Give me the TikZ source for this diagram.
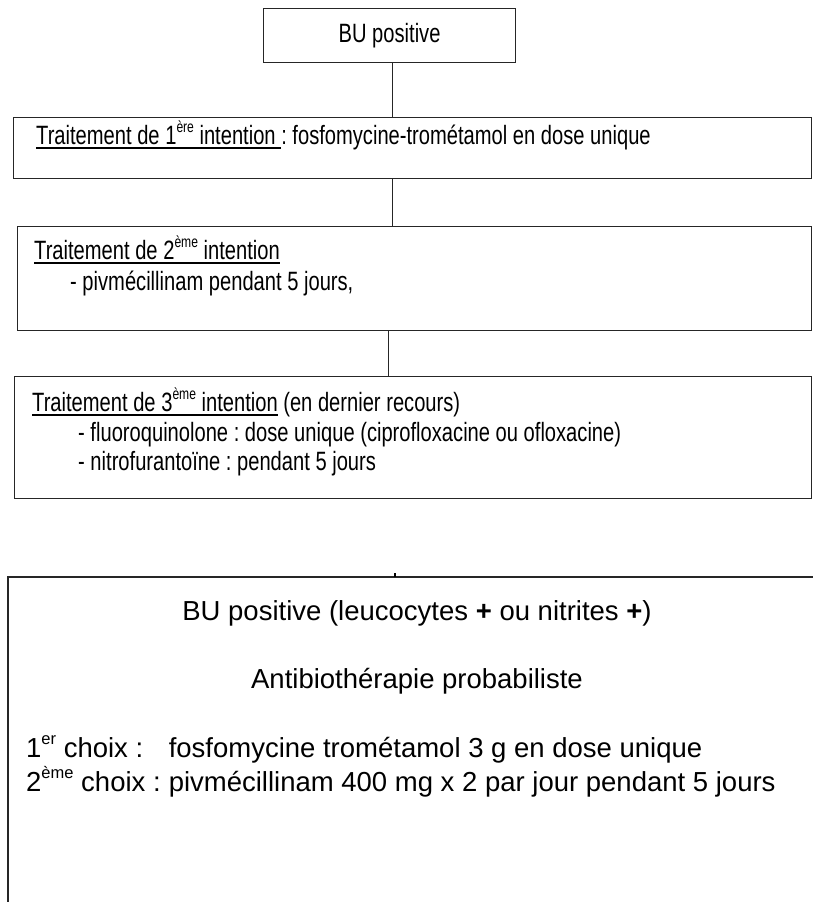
\documentclass[tikz,border=0pt]{standalone}
\usepackage{fontspec}
\setmainfont{Liberation Sans}
\newfontfamily\narrowfont{Liberation Sans}[FakeStretch=0.76]
\usepackage{tikz}
\usetikzlibrary{positioning}
\frenchspacing
\newcommand{\supx}[1]{\raisebox{0.45em}{\scalebox{0.6}{#1}}}
\newcommand{\ulx}[1]{\vtop{\hbox{#1}\kern3pt\hrule height 2.2pt}}

\begin{document}
\begin{tikzpicture}[
    x=1pt, y=-1pt,
    box/.style={
        draw=black!85, line width=1.2pt,
        anchor=north west, inner sep=0pt
    },
    smalltxt/.style={font=\narrowfont\fontsize{26.5}{30}\selectfont, anchor=base west, inner sep=0pt},
    bigtxt/.style={font=\fontsize{27.5}{32}\selectfont, inner sep=0pt},
    link/.style={draw=black!85, line width=1.3pt},
]
\useasboundingbox (0,0) rectangle (813,902);

% Upper chart: boxes
\node[box, minimum width=252pt, minimum height=54pt,
      font=\narrowfont\fontsize{26.5}{30}\selectfont] (bu) at (263,8) {BU positive};
\node[box, minimum width=798pt, minimum height=61pt] (first) at (13,117) {};
\node[box, minimum width=794pt, minimum height=104pt] (second) at (17,226) {};
\node[box, minimum width=797pt, minimum height=122pt] (third) at (14,376) {};

% Upper chart: texts
\node[smalltxt] (firsta) at (36,144)
    {\ulx{Traitement de 1\supx{ère} intention\ }: fosfomycine-trométamol en dose unique};
\node[smalltxt] (seconda) at (34,259) {\ulx{Traitement de 2\supx{ème} intention}};
\node[smalltxt] (secondb) at (70,290) {- pivmécillinam pendant 5 jours,};
\node[smalltxt] (thirda) at (32,411) {\ulx{Traitement de 3\supx{ème} intention} (en dernier recours)};
\node[smalltxt] (thirdb) at (78,441) {- fluoroquinolone : dose unique (ciprofloxacine ou ofloxacine)};
\node[smalltxt] (thirdc) at (78,470) {- nitrofurantoïne : pendant 5 jours};

% Upper chart: connectors
\draw[link] ([xshift=3pt]bu.south) -- ([xshift=3pt]bu.south |- first.north);
\draw[link] ([xshift=3pt]bu.south |- first.south) -- ([xshift=3pt]bu.south |- second.north);
\draw[link] ([xshift=-1pt]bu.south |- second.south) -- ([xshift=-1pt]bu.south |- third.north);

% Lower chart: open frame
\coordinate (frame) at (8,577);
\draw[black!85, line width=1.4pt] (frame |- 0,903) -- (frame) -- (813,577);
\draw[black, line width=1.8pt] (395,577) -- ++(0,-4);

% Lower chart: texts
\node[bigtxt, anchor=base] (head) at (417,620)
    {BU positive (leucocytes \textbf{+} ou nitrites \textbf{+})};
\node[bigtxt, anchor=base] (probab) at (417,688) {Antibiothérapie probabiliste};
\node[bigtxt, anchor=base west] (choixa) at (26,757) {1\supx{er} choix :};
\node[bigtxt, anchor=base west] (choixb) at (26,791) {2\supx{ème} choix :};
\node[bigtxt, anchor=base west] (drugb) at (choixb.base east) {\ pivmécillinam 400 mg x 2 par jour pendant 5 jours};
\node[bigtxt, anchor=base west] (druga) at (drugb.base west |- choixa.base) {\ fosfomycine trométamol 3 g en dose unique};

\end{tikzpicture}
\end{document}
